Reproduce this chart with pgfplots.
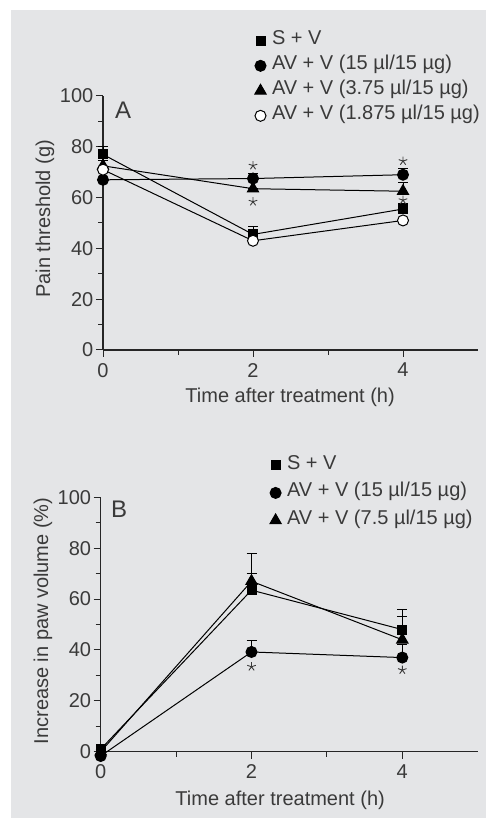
\documentclass[border=0pt]{standalone}
\usepackage{pgfplots}
\pgfplotsset{compat=1.18}
\usepackage{fontspec}
\setmainfont{Liberation Sans}
\definecolor{bg}{RGB}{228,229,231}
\definecolor{txt}{RGB}{58,58,58}
\newcommand{\fs}{\fontsize{20}{24}\selectfont}
\pgfplotsset{
 mystyle/.style={
  scale only axis, axis lines=left, axis line style={-, line width=1.2pt, draw=black!85},
  xmin=0,xmax=5,ymin=0,ymax=100,
  xtick={0,2,4}, ytick={0,20,...,100}, minor x tick num=1, minor y tick num=1,
  tick align=outside, major tick length=7pt, minor tick length=5pt,
  tick style={line width=1pt, black!85},
  /pgf/number format/assume math mode=true,
  every tick label/.append style={font=\fs, text=txt},
  yticklabel style={inner sep=2.5pt},
  xticklabel style={inner sep=6pt},
  label style={font=\fs, text=txt},
  clip=false,
  legend style={draw=none, fill=none, inner sep=0pt, outer sep=0pt, font=\fs, text=txt,
    nodes={inner sep=2pt, text height=14.5pt, text depth=4pt, anchor=base west}},
  legend cell align=left,
  legend image code/.code={\draw[##1] plot coordinates {(0pt,0.36em)}; \path (9pt,0);},
 },
 ln/.style={black, line width=1pt, error bars/y dir=plus, error bars/y explicit,
   error bars/error mark options={rotate=90, mark size=5pt, line width=1pt, black},
   error bars/error bar style={line width=1pt, black}},
 sq/.style={mark=square*, mark size=4.5pt, mark options={fill=black}},
 ci/.style={mark=*, mark size=5.5pt, mark options={fill=black}},
 tr/.style={mark=triangle*, mark size=6.5pt, mark options={fill=black}},
 oc/.style={mark=*, mark size=5.5pt, mark options={fill=white, draw=black}},
 st/.style={only marks, mark=star, mark size=4.5pt, mark options={draw=txt, line width=0.9pt}, forget plot},
}
\begin{document}
\begin{tikzpicture}
\useasboundingbox (0,0) rectangle (486pt,818pt);
\fill[white] (0,0) rectangle (486pt,818pt);
\fill[bg] (11pt,0) rectangle (486pt,808pt);

\begin{axis}[mystyle, at={(103pt,468pt)}, anchor=south west, width=375pt, height=254pt,
  xlabel={Time after treatment (h)}, ylabel={Pain threshold (g)},
  xlabel style={at={(axis description cs:0.499,-0.185)}, anchor=center},
  ylabel style={at={(axis description cs:-0.155,0.516)}, anchor=center},
  legend style={at={(0.405,1.268)}, anchor=north west, row sep=2.5pt}]
\addplot[ln, sq] coordinates {(0,77) +- (0,3.3) (2,45.5) +- (0,3) (4,55.5) +- (0,2)};
\addlegendentry{S + V}
\addplot[ln, ci] coordinates {(0,67) +- (0,0) (2,67.5) +- (0,2) (4,69) +- (0,2.5)};
\addlegendentry{AV + V (15 µl/15 µg)}
\addplot[ln, tr] coordinates {(0,72.5) +- (0,2) (2,63.5) +- (0,0) (4,62.5) +- (0,3.5)};
\addlegendentry{AV + V (3.75 µl/15 µg)}
\addplot[ln, oc] coordinates {(0,71) +- (0,0) (2,43) +- (0,0) (4,51) +- (0,0)};
\addlegendentry{AV + V (1.875 µl/15 µg)}
\addplot[st] coordinates {(2,72.6) (4,74.4) (2,58.4) (4,59)};
\node[font=\fontsize{24}{27}\selectfont, text=txt] at (axis cs:0.267,94.5) {A};
\end{axis}

\begin{axis}[mystyle, at={(100.7pt,66.3pt)}, anchor=south west, width=377pt, height=254.4pt,
  xlabel={Time after treatment (h)}, ylabel={Increase in paw volume (\%)},
  xlabel style={at={(axis description cs:0.476,-0.19)}, anchor=center},
  ylabel style={at={(axis description cs:-0.153,0.514)}, anchor=center},
  legend style={at={(0.449,1.176)}, anchor=north west, row sep=5pt}]
\addplot[ln, sq] coordinates {(0,1) +- (0,0) (2,63.5) +- (0,6.5) (4,48) +- (0,8)};
\addlegendentry{S + V}
\addplot[ln, ci] coordinates {(0,-1.7) +- (0,0) (2,39.2) +- (0,4.4) (4,37) +- (0,5)};
\addlegendentry{AV + V (15 µl/15 µg)}
\addplot[ln, tr] coordinates {(0,0) +- (0,0) (2,67) +- (0,11) (4,44) +- (0,9)};
\addlegendentry{AV + V (7.5 µl/15 µg)}
\addplot[st] coordinates {(2,33.4) (4,32.1)};
\node[font=\fontsize{24}{27}\selectfont, text=txt] at (axis cs:0.243,95.4) {B};
\end{axis}
\end{tikzpicture}
\end{document}
